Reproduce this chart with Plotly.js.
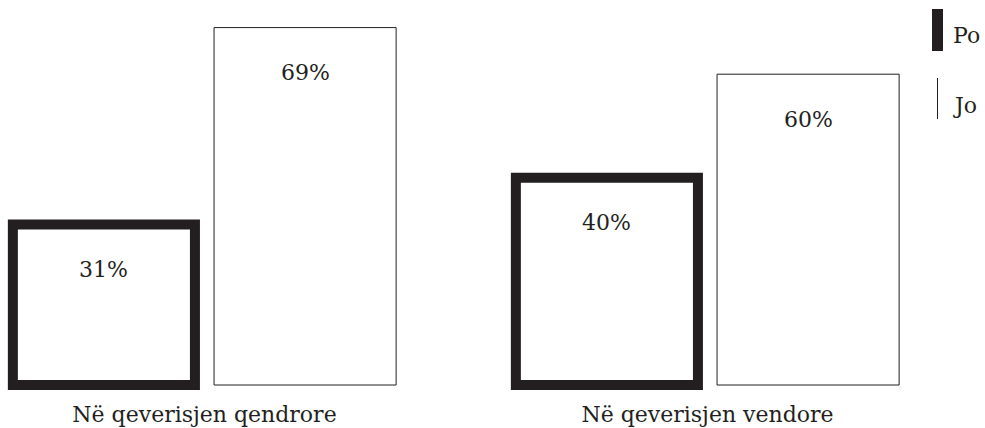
<!DOCTYPE html>
<html>
<head>
<meta charset="utf-8">
<script src="https://cdn.plot.ly/plotly-3.0.1.min.js"></script>
<style>html,body{margin:0;padding:0;background:#fff;}#chart{width:985px;height:428px;}</style>
</head>
<body>
<div id="chart"></div>
<script>
const categories = ["Në qeverisjen qendrore", "Në qeverisjen vendore"];
const seriesNames = ["Po", "Jo"];
const poValues = [31, 40];
const joValues = [69, 60];

const INK = "#231f20";
const FONT = "DejaVu Serif, serif";
const W = 985, H = 428;
const M = {l: 0, r: 75, t: 20, b: 33};
const plotW = W - M.l - M.r, plotH = H - M.t - M.b;
const unitPx = 503, cat0Px = 204.5;
const xr0 = -(cat0Px - M.l) / unitPx;
const xr1 = xr0 + plotW / unitPx;
const pxPerPct = 5.18;
const baselinePx = 385;               // pixel row of value 0
const yMin = -(H - M.b - baselinePx) / pxPerPct;
const yMax = yMin + plotH / pxPerPct;

const bargap = 0.2, bargroupgap = 0.095;
const slot = (1 - bargap) / 2;
const offsets = [-slot / 2, slot / 2];

const traces = [
  {type: "bar", name: seriesNames[0], x: categories, y: poValues,
   marker: {color: "#ffffff", line: {color: INK, width: 10}},
   cliponaxis: false, hoverinfo: "none", showlegend: false},
  {type: "bar", name: seriesNames[1], x: categories, y: joValues,
   marker: {color: "#ffffff", line: {color: INK, width: 1}},
   cliponaxis: false, hoverinfo: "none", showlegend: false}
];

const annotations = [];
[poValues, joValues].forEach((vals, s) => {
  vals.forEach((v, i) => {
    annotations.push({x: i + offsets[s], y: v, xref: "x", yref: "y",
      text: v + "%", showarrow: false, yshift: -45,
      font: {family: FONT, size: 22, color: INK}});
  });
});

// custom legend (pixel helpers)
const px2x = px => (px - M.l) / plotW;
const px2y = py => (H - M.b - py) / plotH;
const shapes = [
  {type: "rect", xref: "paper", yref: "paper", x0: px2x(932), x1: px2x(943), y0: px2y(51), y1: px2y(9),
   fillcolor: INK, line: {width: 0}},
  {type: "line", xref: "paper", yref: "paper", x0: px2x(937.5), x1: px2x(937.5), y0: px2y(119), y1: px2y(78),
   line: {color: INK, width: 1}}
];
annotations.push({xref: "paper", yref: "paper", x: px2x(951), y: px2y(36), xanchor: "left", yanchor: "middle",
  text: seriesNames[0], showarrow: false, font: {family: FONT, size: 22, color: INK}});
annotations.push({xref: "paper", yref: "paper", x: px2x(951), y: px2y(105), xanchor: "left", yanchor: "middle",
  text: seriesNames[1], showarrow: false, font: {family: FONT, size: 22, color: INK}});

const layout = {
  width: W, height: H,
  margin: M,
  paper_bgcolor: "#ffffff", plot_bgcolor: "#ffffff",
  barmode: "group", bargap: bargap, bargroupgap: bargroupgap,
  showlegend: false,
  font: {family: FONT, size: 22, color: INK},
  xaxis: {type: "category", range: [xr0, xr1], showgrid: false, zeroline: false, showline: false,
    ticks: "", ticklabelstandoff: 4, tickfont: {family: FONT, size: 22, color: INK}, fixedrange: true},
  yaxis: {range: [yMin, yMax], visible: false, showgrid: false, zeroline: false, fixedrange: true},
  annotations: annotations,
  shapes: shapes
};

Plotly.newPlot("chart", traces, layout, {displayModeBar: false, staticPlot: true});
</script>
</body>
</html>
